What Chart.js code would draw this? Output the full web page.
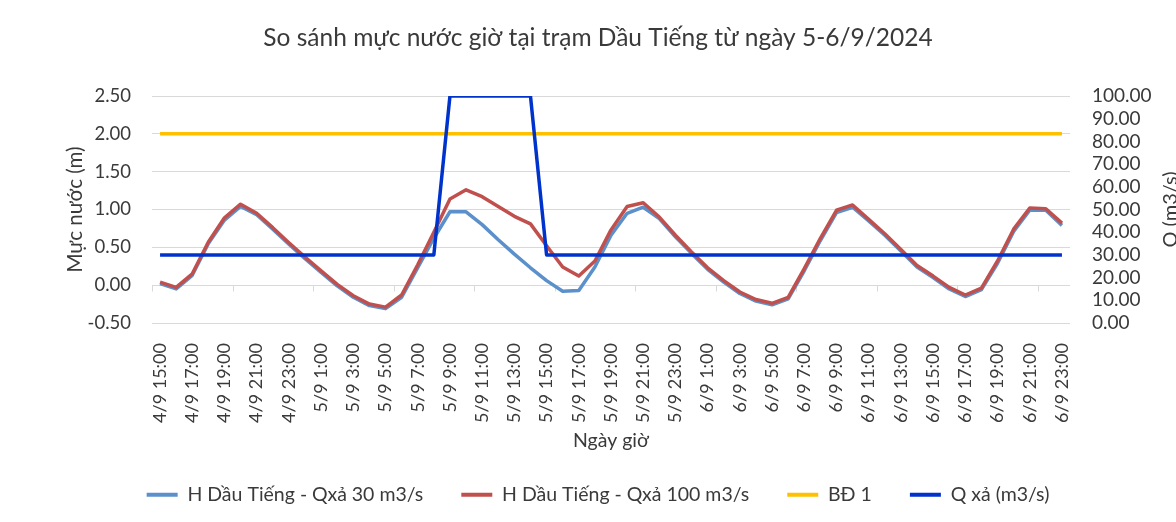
<!DOCTYPE html>
<html><head><meta charset="utf-8">
<script src="https://cdn.jsdelivr.net/npm/chart.js@4.4.1/dist/chart.umd.min.js"></script>
<style>html,body{margin:0;padding:0;background:#fff;}#wrap{width:1176px;height:522px;}</style>
</head><body><div id="wrap"><canvas id="c" width="1176" height="522"></canvas></div>
<script>
const categories = [
"4/9 15:00","4/9 16:00","4/9 17:00","4/9 18:00","4/9 19:00","4/9 20:00","4/9 21:00","4/9 22:00","4/9 23:00",
"5/9 0:00","5/9 1:00","5/9 2:00","5/9 3:00","5/9 4:00","5/9 5:00","5/9 6:00","5/9 7:00","5/9 8:00",
"5/9 9:00","5/9 10:00","5/9 11:00","5/9 12:00","5/9 13:00","5/9 14:00","5/9 15:00","5/9 16:00","5/9 17:00",
"5/9 18:00","5/9 19:00","5/9 20:00","5/9 21:00","5/9 22:00","5/9 23:00",
"6/9 0:00","6/9 1:00","6/9 2:00","6/9 3:00","6/9 4:00","6/9 5:00","6/9 6:00","6/9 7:00","6/9 8:00",
"6/9 9:00","6/9 10:00","6/9 11:00","6/9 12:00","6/9 13:00","6/9 14:00","6/9 15:00","6/9 16:00","6/9 17:00",
"6/9 18:00","6/9 19:00","6/9 20:00","6/9 21:00","6/9 22:00","6/9 23:00"];
const hQ30 = [0.02,-0.05,0.13,0.55,0.86,1.04,0.93,0.74,0.54,0.35,
0.17,-0.01,-0.16,-0.27,-0.31,-0.16,0.23,0.62,0.97,0.97,
0.80,0.60,0.41,0.23,0.06,-0.08,-0.07,0.24,0.66,0.95,
1.03,0.88,0.64,0.42,0.21,0.04,-0.11,-0.21,-0.26,-0.18,
0.19,0.59,0.96,1.03,0.85,0.66,0.45,0.24,0.10,-0.05,
-0.15,-0.06,0.29,0.71,0.99,0.99,0.79];
const hQ100 = [0.04,-0.03,0.15,0.57,0.89,1.07,0.95,0.76,0.56,0.37,
0.19,0.01,-0.14,-0.25,-0.29,-0.13,0.27,0.70,1.14,1.26,
1.17,1.04,0.91,0.81,0.52,0.24,0.12,0.32,0.73,1.04,
1.09,0.90,0.66,0.44,0.23,0.06,-0.09,-0.19,-0.24,-0.16,
0.22,0.62,0.99,1.06,0.87,0.68,0.47,0.26,0.12,-0.03,
-0.13,-0.04,0.32,0.74,1.02,1.01,0.82];
const bd1 = [2,2,2,2,2,2,2,2,2,2,2,2,2,2,2,2,2,2,2,2,2,2,2,2,2,2,2,2,2,2,2,2,2,2,2,2,2,2,2,2,2,2,2,2,2,2,2,2,2,2,2,2,2,2,2,2,2];
const qXa = [30,30,30,30,30,30,30,30,30,30,30,30,30,30,30,30,30,30,
100,100,100,100,100,100,
30,30,30,30,30,30,30,30,30,30,30,30,30,30,30,30,30,30,30,30,30,30,30,30,30,30,30,30,30,30,30,30,30];
const leftTicks = {min: -0.5, max: 2.5, step: 0.5};
const rightTicks = {min: 0, max: 100, step: 10};

const FONT = 'Lato';
const TXT = '#3a3a3a';
Chart.defaults.font.family = FONT;
Chart.defaults.color = TXT;

const zeroAxis = {
  id: 'zeroAxis',
  beforeDatasetsDraw(chart) {
    const {ctx, scales: {x, y}} = chart;
    const y0 = Math.round(y.getPixelForValue(0)) + 0.5;
    const half = (x.getPixelForValue(1) - x.getPixelForValue(0)) / 2;
    ctx.save();
    ctx.strokeStyle = '#d9d9d9'; ctx.lineWidth = 1;
    ctx.beginPath();
    ctx.moveTo(x.left, y0); ctx.lineTo(x.right, y0);
    for (let k = 0; k < categories.length; k += 5) {
      const px = Math.round(x.getPixelForValue(k) - half) + 0.5;
      ctx.moveTo(px, y0); ctx.lineTo(px, y0 + 6);
    }
    ctx.stroke(); ctx.restore();
  }
};
const rightTitle = {
  id: 'rightTitle',
  afterDraw(chart) {
    const {ctx, chartArea, scales: {y1}} = chart;
    ctx.save();
    ctx.translate(y1.right - 5, (chartArea.top + chartArea.bottom) / 2);
    ctx.rotate(-Math.PI / 2);
    ctx.textAlign = 'center'; ctx.textBaseline = 'middle';
    ctx.font = '20px ' + FONT; ctx.fillStyle = TXT;
    ctx.fillText('Q (m3/s)', 0, 0);
    ctx.restore();
  }
};

new Chart(document.getElementById('c'), {
  type: 'line',
  data: {
    labels: categories,
    datasets: [
      {label: 'H Dầu Tiếng - Qxả 30 m3/s', data: hQ30, borderColor: '#5B90CB', backgroundColor: '#5B90CB', borderWidth: 3.5, order: 3, yAxisID: 'y'},
      {label: 'H Dầu Tiếng - Qxả 100 m3/s', data: hQ100, borderColor: '#C0504D', backgroundColor: '#C0504D', borderWidth: 3.5, order: 2, yAxisID: 'y'},
      {label: 'BĐ 1', data: bd1, borderColor: '#FFC000', backgroundColor: '#FFC000', borderWidth: 3.5, order: 4, yAxisID: 'y'},
      {label: 'Q xả (m3/s)', data: qXa, borderColor: '#0033CC', backgroundColor: '#0033CC', borderWidth: 3.5, order: 1, yAxisID: 'y1'}
    ]
  },
  options: {
    responsive: false, animation: false,
    layout: {padding: {left: 20, right: 0, top: 0, bottom: 7.5}},
    elements: {point: {radius: 0}, line: {tension: 0, borderJoinStyle: 'round', borderCapStyle: 'butt'}},
    plugins: {
      title: {display: true, text: 'So sánh mực nước giờ tại trạm Dầu Tiếng từ ngày 5-6/9/2024',
        font: {size: 24.5, weight: 'normal'}, color: TXT, padding: {top: 23.3, bottom: 43.3}},
      legend: {position: 'bottom',
        labels: {boxWidth: 31, boxHeight: 4, padding: 38, font: {size: 19.5}, color: TXT,
          generateLabels(chart) {
            const items = Chart.defaults.plugins.legend.labels.generateLabels(chart);
            items.forEach(it => { it.fillStyle = it.strokeStyle; it.lineWidth = 0; });
            return items;
          },
          sort: (a, b) => a.datasetIndex - b.datasetIndex}},
      tooltip: {enabled: false}
    },
    scales: {
      x: {type: 'category', offset: true,
        grid: {display: false}, border: {display: false},
        ticks: {autoSkip: false, maxRotation: 90, minRotation: 90, padding: 12, font: {size: 18}, color: TXT,
          callback: (v, i) => (i % 2 === 0 ? categories[i] : '')},
        title: {display: true, text: 'Ngày giờ', font: {size: 19.5}, color: TXT, padding: {top: 0, bottom: -5.5}},
        afterFit: s => { s.height = 124; }
      },
      y: {position: 'left', min: leftTicks.min, max: leftTicks.max,
        ticks: {stepSize: leftTicks.step, padding: 21, font: {size: 18.5}, color: TXT, callback: v => Number(v).toFixed(2)},
        grid: {color: '#d9d9d9', lineWidth: 1, drawTicks: false}, border: {display: false},
        title: {display: true, text: 'Mực nước (m)', font: {size: 20.5}, color: TXT, padding: {top: 43, bottom: 0}},
        afterFit: s => { s.width = 132; }
      },
      y1: {position: 'right', min: rightTicks.min, max: rightTicks.max,
        ticks: {stepSize: rightTicks.step, autoSkip: false, padding: 22, font: {size: 19}, color: TXT, callback: v => Number(v).toFixed(2)},
        grid: {drawOnChartArea: false, drawTicks: false}, border: {display: false},
        afterFit: s => { s.width = 106; }
      }
    }
  },
  plugins: [zeroAxis, rightTitle]
});
</script></body></html>
